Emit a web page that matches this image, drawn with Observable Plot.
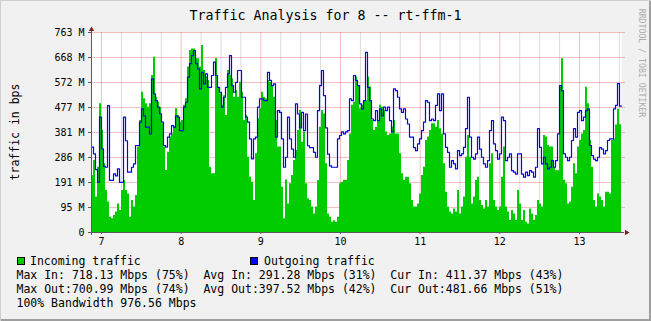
<!DOCTYPE html>
<html><head><meta charset="utf-8">
<script src="https://cdn.jsdelivr.net/npm/d3@7"></script>
<script src="https://cdn.jsdelivr.net/npm/@observablehq/plot@0.6"></script>
<style>
html,body{margin:0;padding:0;background:#F1F1F1;}
#wrap{position:relative;width:651px;height:321px;background:#F1F1F1;overflow:hidden;
  font-family:"DejaVu Sans Mono",monospace;color:#000;
  box-shadow: inset 1px 1px 0 #CFCFCF, inset -2px -2px 0 #9E9E9E;}
.abs{position:absolute;white-space:pre;}
#title{left:0;top:7px;width:651px;height:18px;line-height:18px;text-align:center;font-size:13.3px;}
#ylab{left:-85px;top:123px;width:200px;height:18px;line-height:18px;text-align:center;font-size:11.5px;transform:rotate(-90deg);}
#brand{left:572px;top:57px;width:140px;height:12px;line-height:12px;text-align:center;font-size:8.2px;color:#ADADAD;transform:rotate(90deg);}
#chart{left:0;top:26px;}
.leg{font-size:11.5px;height:14px;line-height:14px;}
.box{position:absolute;width:6px;height:6px;border:1px solid #000;}
</style>
</head><body>
<div id="wrap">
  <div id="title" class="abs"></div>
  <div id="ylab" class="abs"></div>
  <div id="brand" class="abs"></div>
  <div id="chart" class="abs"></div>
  <div id="legend"></div>
</div>
<script>
// ---- text ----
const titleText = "Traffic Analysis for 8 -- rt-ffm-1";
const yAxisLabel = "traffic in bps";
const brandText = "RRDTOOL / TOBI OETIKER";
const seriesNames = ["Incoming traffic", "Outgoing traffic"];
const seriesColors = ["#00CC00", "#0000FF"];
const statsLines = [
  "Max In: 718.13 Mbps (75%)  Avg In: 291.28 Mbps (31%)  Cur In: 411.37 Mbps (43%)",
  "Max Out:700.99 Mbps (74%)  Avg Out:397.52 Mbps (42%)  Cur Out:481.66 Mbps (51%)",
  "100% Bandwidth 976.56 Mbps"
];

// ---- axes (day of month on x, Mbps on y) ----
const xDomain = [6.8745, 13.527];
const dayTicks = [7, 8, 9, 10, 11, 12, 13];
const dayTickLabels = ["7", "8", "9", "10", "11", "12", "13"];
const minorTicks = [7.25, 7.5, 7.75, 8.25, 8.5, 8.75, 9.25, 9.5, 9.75, 10.25, 10.5, 10.75,
                    11.25, 11.5, 11.75, 12.25, 12.5, 12.75, 13.25, 13.5];
const yDomain = [0, 763];
const yTicks = [0, 95.375, 190.75, 286.125, 381.5, 476.875, 572.25, 667.625, 763];
const yTickLabels = ["0", "95 M", "191 M", "286 M", "381 M", "477 M", "572 M", "668 M", "763 M"];

// ---- series (Mbps), evenly spaced samples over xDomain ----
const incoming = [
  217, 275, 135, 249, 491, 389, 262, 160, 116, 58,
  52, 65, 78, 109, 84, 160, 198, 160, 147, 58,
  122, 97, 141, 326, 427, 535, 510, 491, 478, 491,
  599, 669, 516, 497, 478, 415, 326, 237, 306, 364,
  376, 402, 472, 446, 421, 427, 485, 510, 631, 694,
  700, 700, 663, 663, 631, 713, 618, 593, 580, 249,
  224, 224, 664, 554, 529, 485, 522, 446, 618, 600,
  586, 516, 541, 516, 573, 535, 427, 446, 287, 211,
  192, 122, 300, 434, 472, 535, 516,
  510, 580, 573, 560, 516, 427, 326, 326, 173, 52,
  200, 109, 186, 217, 275, 313, 389, 465, 344, 383,
  186, 129, 122, 97, 71, 97, 198, 402, 465, 452,
  262, 71, 58, 39, 45, 39, 58, 186, 192, 199,
  199, 275, 376, 485, 497, 593, 560, 472, 485, 503,
  503, 593, 554, 427, 389, 402, 427, 485, 478, 465,
  383, 370, 376, 402, 427, 376, 376, 300, 224, 198,
  211, 211, 186, 122, 97, 97, 109, 147, 217, 249,
  351, 364, 389, 415, 415,
  402, 427, 396, 376, 262, 154, 97, 78, 71, 90,
  78, 160, 71, 97, 135, 287, 370, 287, 109, 135,
  198, 211, 122, 103, 90, 122, 97, 262, 300, 122,
  97, 84, 97, 211, 326, 97, 78, 46, 84, 71,
  46, 160, 109, 46, 84, 39, 32, 90, 71, 46,
  65, 122, 109, 97, 370, 364, 332, 326, 326, 249,
  236, 236, 554, 663, 199, 186, 109, 115, 173, 262,
  224, 326, 351, 376, 389, 554, 491, 351, 249, 122,
  97, 147, 135, 122, 97, 154, 154, 147, 351, 357,
  410, 470, 411
];
const outgoing = [
  326, 300, 240, 192, 440, 319, 252, 249, 484, 199,
  199, 224, 216, 243, 191, 191, 440, 350, 230, 230,
  249, 262, 332, 332, 421, 472, 445, 402, 402, 376,
  586, 529, 503, 478, 453, 421, 332, 326, 364, 376,
  408, 402, 445, 440, 389, 389, 478, 497, 593, 644,
  675, 694, 644, 624, 548, 611, 567, 605, 554, 554,
  599, 650, 599, 554, 535, 478, 516, 554, 605, 675,
  560, 535, 573, 618, 618, 516, 516, 440, 421, 357,
  281, 357, 364, 478, 510, 510, 503,
  503, 611, 580, 560, 567, 364, 465, 458, 357, 249,
  287, 440, 357, 318, 287, 491, 452, 399, 458, 389,
  452, 331, 324, 324, 306, 287, 465, 560, 618, 522,
  399, 299, 254, 249, 249, 249, 357, 370, 384, 376,
  384, 389, 510, 503, 599, 580, 560, 491, 472, 503,
  687, 554, 503, 433, 427, 465, 427, 472, 445, 478,
  465, 478, 427, 384, 548, 541, 516, 472, 458, 472,
  433, 414, 364, 364, 324, 312, 338, 357, 389, 421,
  503, 497, 427, 433, 427,
  485, 529, 465, 529, 376, 325, 306, 249, 274, 262,
  243, 312, 293, 300, 325, 396, 516, 364, 287, 280,
  300, 364, 318, 287, 262, 249, 274, 389, 427, 338,
  312, 280, 300, 440, 427, 274, 287, 300, 236, 230,
  223, 300, 300, 223, 211, 230, 217, 236, 230, 211,
  249, 396, 325, 262, 287, 262, 243, 249, 274, 249,
  274, 376, 560, 541, 300, 287, 274, 287, 351, 396,
  364, 458, 465, 427, 440, 465, 472, 332, 293, 280,
  274, 287, 324, 318, 300, 312, 351, 357, 357, 472,
  485, 568, 482
];

// ---- build table ----
const n = incoming.length;
const dt = (xDomain[1] - xDomain[0]) / n;
const data = incoming.map((v, i) => ({t: xDomain[0] + i * dt, inc: v, out: outgoing[i]}));
data.push({t: xDomain[1], inc: incoming[n - 1], out: outgoing[n - 1]});

const axisColor = "#5a5a5a";
const arrowColor = "#801F1F";

const chart = Plot.plot({
  width: 651, height: 228,
  marginLeft: 91, marginRight: 30, marginTop: 6, marginBottom: 22,
  style: {background: "transparent", fontFamily: "DejaVu Sans Mono, monospace", fontSize: "10px", color: "#000", overflow: "visible"},
  x: {type: "linear", domain: xDomain, label: null},
  y: {type: "linear", domain: yDomain, label: null},
  marks: [
    Plot.frame({fill: "#FFFFFF", stroke: null}),
    Plot.ruleX(minorTicks, {stroke: "#8F8F8F", strokeOpacity: 0.32}),
    Plot.ruleX(dayTicks, {stroke: "#DE4F4F", strokeOpacity: 0.36}),
    Plot.ruleY(yTicks.slice(1), {stroke: "#DE4F4F", strokeOpacity: 0.36, insetRight: -4}),
    Plot.areaY(data, {x: "t", y: "inc", curve: "step-after", fill: seriesColors[0]}),
    Plot.lineY(data, {x: "t", y: "out", curve: "step-after", stroke: seriesColors[1], strokeWidth: 1.2}),
    Plot.axisY({ticks: yTicks, tickFormat: (d, i) => yTickLabels[i], tickSize: 3, tickPadding: 4, stroke: axisColor, fill: "#000", label: null}),
    Plot.axisX({ticks: dayTicks, tickFormat: (d, i) => dayTickLabels[i], tickSize: 2, tickPadding: 3, stroke: axisColor, fill: "#000", label: null}),
    Plot.ruleX([xDomain[0]], {stroke: axisColor, insetTop: -3, insetBottom: -3}),
    Plot.ruleY([yDomain[0]], {stroke: axisColor, insetRight: -3, insetLeft: -3}),
    Plot.dot([{x: xDomain[0], y: yDomain[1]}], {x: "x", y: "y", symbol: "triangle", r: 2, fill: arrowColor, stroke: null, dy: -3}),
    Plot.dot([{x: xDomain[1], y: yDomain[0]}], {x: "x", y: "y", symbol: "triangle", r: 2, fill: arrowColor, stroke: null, dx: 5, rotate: 90})
  ]
});
document.getElementById("chart").appendChild(chart);

// ---- text & legend ----
document.getElementById("title").textContent = titleText;
document.getElementById("ylab").textContent = yAxisLabel;
document.getElementById("brand").textContent = brandText;

const leg = document.getElementById("legend");
function addText(txt, left, top) {
  const d = document.createElement("div");
  d.className = "abs leg";
  d.style.left = left + "px";
  d.style.top = top + "px";
  d.textContent = txt;
  leg.appendChild(d);
}
function addBox(color, left, top) {
  const b = document.createElement("div");
  b.className = "box";
  b.style.left = left + "px";
  b.style.top = top + "px";
  b.style.background = color;
  leg.appendChild(b);
}
addBox(seriesColors[0], 17, 257);
addText(seriesNames[0], 30, 254);
addBox(seriesColors[1], 250, 257);
addText(seriesNames[1], 264, 254);
statsLines.forEach((s, i) => addText(s, 16.5, 268 + i * 14));
</script>
</body></html>
